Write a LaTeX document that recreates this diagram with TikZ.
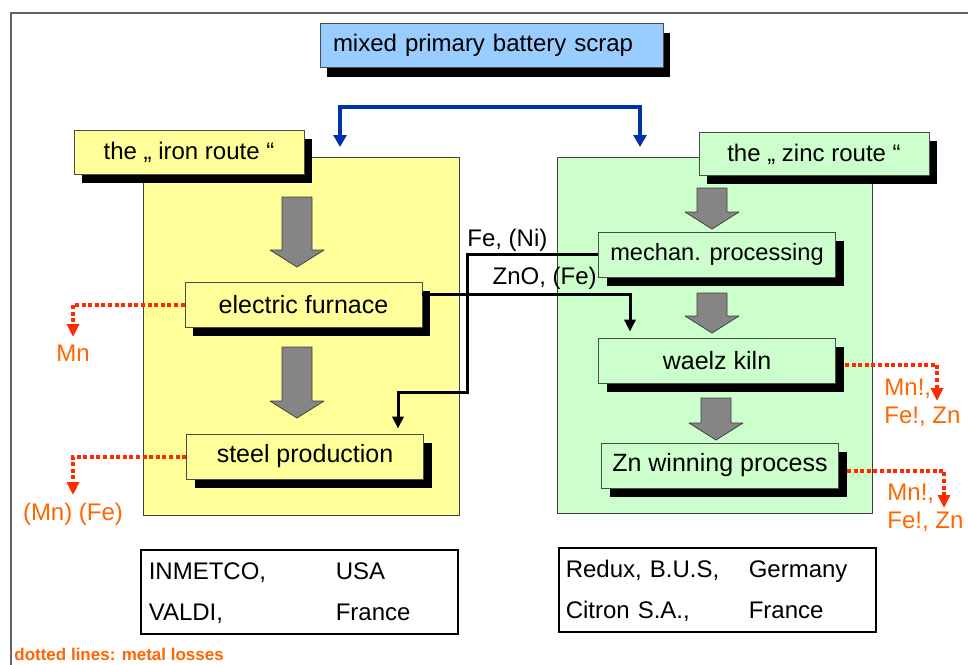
\documentclass[tikz,border=0pt]{standalone}
\usepackage{fontspec}
\setmainfont{Liberation Sans}
\usetikzlibrary{calc, arrows.meta, shadows, positioning}
\definecolor{azulclaro}{HTML}{99CCFF}
\definecolor{amarillo}{HTML}{FFFF99}
\definecolor{verde}{HTML}{CCFFCC}
\definecolor{rojoperdida}{HTML}{FF2A00}
\definecolor{naranja}{HTML}{FF6600}
\definecolor{azulflujo}{HTML}{0033AA}
\tikzset{
    sombra/.style 2 args={drop shadow={shadow xshift=#1, shadow yshift=#2, fill=black, opacity=1}},
    marco/.style={draw=black!60, line width=0.6pt},
    panel/.style={draw=black!75, line width=0.5pt},
    caja/.style={draw=black!70, line width=0.4pt, minimum width=118.5pt, minimum height=22.5pt, inner sep=0pt, font=\fontsize{12.5}{15}\selectfont, sombra={4pt}{-4.5pt}},
    encabezado/.style={draw=black!70, line width=0.4pt, minimum width=115pt, minimum height=21.75pt, inner sep=0pt, sombra={4pt}{-4.25pt}},
    flechagris/.style={fill=black!48, draw=black!75, line width=0.4pt, line join=round},
    flujo/.style={draw=black, line width=1.5pt, -{Triangle[length=6pt, width=5.5pt]}, shorten >=1pt},
    alimentacion/.style={draw=azulflujo, line width=2pt, {Triangle[length=6pt, width=6.5pt]}-{Triangle[length=6pt, width=6.5pt]}},
    perdida/.style={draw=rojoperdida, line width=2pt, dash pattern=on 2pt off 1.3pt, -{Triangle[length=6.5pt, width=6pt]}},
    textoperdida/.style={text=naranja, inner sep=0pt},
    empresas/.style={draw=black, line width=0.8pt, minimum width=158.5pt, minimum height=42pt, text width=150.5pt, inner xsep=4pt, inner ysep=0pt, align=left, font=\fontsize{12}{20.5}\selectfont},
}

\begin{document}
\begin{tikzpicture}[x=0.5pt, y=-0.5pt, font=\fontsize{12}{14}\selectfont]
\useasboundingbox (0,0) rectangle (968,664);
\draw[marco] (11,690) |- (990,13);

\draw[panel, fill=amarillo] (143,157) rectangle (459,515);
\draw[panel, fill=verde] (557,157) rectangle (872,513);

\foreach \cx/\ytop/\ytip in {297/197/267, 297/347/418, 712/188/229, 712/293/333, 716/398/440} {
    \filldraw[flechagris] (\cx-15,\ytop) -- (\cx+15,\ytop) -- (\cx+15,\ytip-17) -- (\cx+27,\ytip-17)
        -- (\cx,\ytip) -- (\cx-27,\ytip-17) -- (\cx-15,\ytip-17) -- cycle;
}

\node[draw=black!70, line width=0.4pt, fill=azulclaro, minimum width=171.5pt, minimum height=22pt,
    text width=158.5pt, inner xsep=6.5pt, inner ysep=0pt, align=left, sombra={3.5pt}{-5pt}]
    (chatarra) at (491.5,45) {mixed primary battery scrap};

\coordinate (entradahierro) at (340,147);
\coordinate (entradazinc) at (640,147);
\draw[alimentacion] (entradahierro) -- ++(0,-40) -| (entradazinc);

\node[encabezado, fill=amarillo] (rutahierro) at (189,152.5) {the „ iron route “};
\node[encabezado, fill=verde] (rutazinc) at (814,154) {the „ zinc route “};

\node[caja, fill=amarillo] (horno) at (303.5,304.5) {electric furnace};
\node[caja, fill=amarillo] (acero) at (305,456.5) {steel production};
\node[caja, fill=verde, font=\fontsize{11.8}{14}\selectfont] (mecanico) at (717,254.5) {mechan. processing};
\node[caja, fill=verde] (waelz) at (717,360.5) {waelz kiln};
\node[caja, fill=verde] (zn) at (720,465.5) {Zn winning process};

\coordinate (codo) at (467,392);
\draw[flujo] (mecanico.west) -| (codo) -| ($(acero.north)+(93,-3)$);
\draw[flujo] ($(horno.east)+(0,-10)$) -| ($(waelz.north)+(-87,-4)$);
\node[anchor=south west, inner sep=1pt] (feni) at (465,254) {Fe, (Ni)};
\node[anchor=south east, inner sep=1pt] (znofe) at (599,292) {ZnO, (Fe)};

\coordinate (perdidamn) at (73,337);
\coordinate (perdidafe) at (73,495);
\coordinate (perdidawaelz) at (937,401);
\coordinate (perdidazn) at (944,508);
\draw[perdida] (horno.west) -| (perdidamn);
\draw[perdida] (acero.west) -| (perdidafe);
\draw[perdida] ($(waelz.east)+(9,4)$) -| (perdidawaelz);
\draw[perdida] ($(zn.east)+(8,5)$) -| (perdidazn);
\node[textoperdida, below=4pt of perdidamn] (mn) {Mn};
\node[textoperdida, below=4pt of perdidafe] (mnfe) {(Mn) (Fe)};
\node[textoperdida, anchor=west, align=left] (perdidas1) at (884,403) {Mn!,\\Fe!, Zn};
\node[textoperdida, anchor=west, align=left] (perdidas2) at (887,508) {Mn!,\\Fe!, Zn};

\node[empresas, anchor=north west] (empresashierro) at (140,549)
    {\begin{tabular}{@{}p{93.5pt}@{}l@{}} INMETCO, & USA\\ VALDI, & France \end{tabular}};
\node[empresas, anchor=north west, inner xsep=3.5pt, text width=151.5pt] (empresaszinc) at (558,547)
    {\begin{tabular}{@{}p{91.5pt}@{}l@{}} Redux, B.U.S, & Germany\\ Citron S.A., & France \end{tabular}};

\node[anchor=north west, inner sep=0pt, text=naranja, font=\fontsize{8.5}{10}\selectfont\bfseries] (leyenda) at (14,648) {dotted lines: metal losses};
\end{tikzpicture}
\end{document}
